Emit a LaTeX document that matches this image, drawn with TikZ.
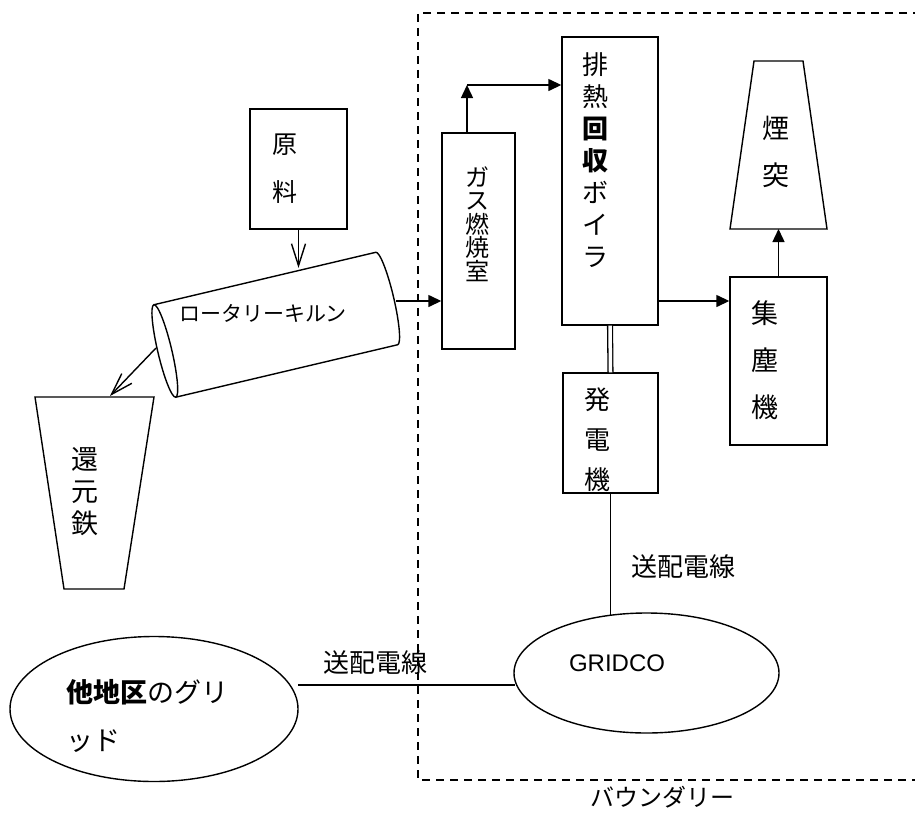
\documentclass[tikz,border=0pt]{standalone}
\usepackage{fontspec}
\setmainfont{Noto Sans CJK JP}
\newfontfamily\lib{Liberation Sans}
\usetikzlibrary{arrows.meta,shapes.geometric}
\begin{document}
\begin{tikzpicture}[x=1pt,y=1pt,
  ln/.style={line width=1.4pt},
  blk/.style={draw, line width=1.4pt, rectangle, inner sep=0pt},
  tri/.style={-{Triangle[length=13pt,width=12pt]}},
  barb/.style={-{Straight Barb[length=22pt,width=14pt]}},
  vtxt/.style n args={2}{align=center, inner sep=0pt, font=\fontsize{#1}{#2}\selectfont},
  htxt/.style={inner sep=0pt, font=\fontsize{#1}{#1}\selectfont}]
\useasboundingbox (0,0) rectangle (915,-816);
\begin{scope}
\clip (0,0) rectangle (915,-816);
\draw[ln, dash pattern=on 8pt off 6pt] (935,-13) -- (418,-13) -- (418,-780) -- (935,-780);
\end{scope}

% boxes
\node[blk, minimum width=97pt, minimum height=120pt] (raw) at (298.5,-169) {};
\node[vtxt={25}{48}] (rawt) at (285,-169) {原\\料};
\node[blk, minimum width=73pt, minimum height=216pt] (gas) at (478.5,-241) {};
\node[vtxt={24}{23.5}] (gast) at (477,-224) {ガ\\ス\\燃\\焼\\室};
\node[blk, minimum width=96pt, minimum height=288pt] (boiler) at (610,-181) {};
\node[vtxt={26}{32}] (boilert) at (595,-160.5) {排\\熱\\{\bfseries 回}\\{\bfseries 収}\\ボ\\イ\\ラ};
\node[blk, minimum width=97pt, minimum height=168pt] (dust) at (778.5,-361) {};
\node[vtxt={27}{47}] (dustt) at (765,-360) {集\\塵\\機};
\node[blk, minimum width=95pt, minimum height=120pt] (gen) at (610.5,-433) {};
\node[vtxt={26}{40}] (gent) at (597,-440) {発\\電\\機};

% chimney
\draw[ln] (754,-61) -- (803,-61) -- (827,-229) -- (730,-229) -- cycle;
\coordinate (chimb) at (778.5,-229);
\node[vtxt={27}{47}] (chimt) at (776,-151.5) {煙\\突};

% reduced iron
\draw[ln] (35,-397) -- (154,-397) -- (124,-589) -- (64,-589) -- cycle;
\coordinate (irontop) at (110,-396);
\node[vtxt={27}{32}] (iront) at (85,-492) {還\\元\\鉄};

% kiln
\begin{scope}[shift={(275.75,-324.75)}, rotate=13.3]
 \draw[ln] (-114,0) ellipse [x radius=7, y radius=47.5];
 \draw[ln] (-114,47.5) -- (114,47.5) arc[start angle=90,end angle=-90,x radius=7,y radius=47.5] -- (-114,-47.5);
\end{scope}
\node[htxt=21] (kilnt) at (263,-313) {ロータリーキルン};
\coordinate (kin) at (298.5,-268);
\coordinate (kout) at (396,-301);
\coordinate (kiron) at (156,-348);

% grids
\node[draw, ln, ellipse, inner sep=0pt, minimum width=288pt, minimum height=145pt] (grid) at (154,-709) {};
\node[align=left, anchor=west, inner sep=0pt, font=\fontsize{27}{48}\selectfont] (gridt) at (66,-716) {{\bfseries 他地区}のグリ\\ッド};
\node[draw, ln, ellipse, inner sep=0pt, minimum width=265pt, minimum height=120pt] (gridco) at (646.5,-673) {};
\node[inner sep=0pt, font=\lib\fontsize{24}{24}\selectfont] (gridcot) at (617,-663) {GRIDCO};
\coordinate (gtop) at (610.5,-615);
\coordinate (ge) at (298,-685);
\coordinate (gw) at (515,-685);

% labels
\node[htxt=26] (w1) at (683,-567) {送配電線};
\node[htxt=26] (w2) at (375,-663) {送配電線};
\node[htxt=24] (bnd) at (662,-797) {バウンダリー};

% connectors
\draw[ln, barb] (raw.south) -- (kin);
\draw[ln, tri] (kout) -- (kout -| gas.west);
\draw[ln, barb] (kiron) -- (irontop);
\coordinate (gup) at (467,-85);
\draw[ln, tri] (gas.north -| gup) -- (gup);
\draw[ln, tri] (gup) -- (gup -| boiler.west);
\draw[ln, tri] (boiler.east |- kout) -- (dust.west |- kout);
\draw[ln, tri] (dust.north) -- (chimb);
\draw[line width=1.3pt, double, double distance=3.5pt] (boiler.south) -- (gen.north);
\draw[ln] (gen.south) -- (gtop);
\draw[ln] (ge) -- (gw);
\end{tikzpicture}
\end{document}
